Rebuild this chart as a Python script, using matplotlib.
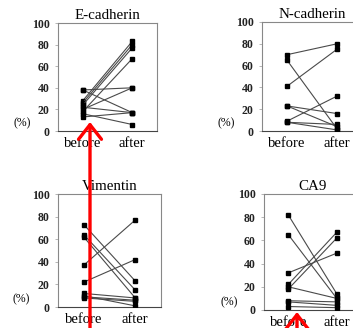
import matplotlib
matplotlib.use("Agg")
import matplotlib.pyplot as plt
from matplotlib.patches import FancyArrowPatch

# paired percentages (before -> after) for each marker
ecad_before = [38, 28, 26, 24, 18, 20, 22, 13, 16, 38]
ecad_after = [40, 83, 80, 77, 67, 40, 17, 17, 6, 17]

ncad_before = [70, 65, 41, 23, 23, 9, 8, 8]
ncad_after = [80, 2, 75, 16, 4, 32, 6, 1]

vim_before = [73, 64, 62, 37, 22, 12, 10, 9, 8]
vim_after = [23, 15, 8, 77, 42, 8, 1, 6, 5]

ca9_before = [82, 65, 32, 22, 18, 20, 8, 7, 3]
ca9_after = [14, 10, 49, 67, 62, 10, 7, 4, 2]

titles = ["E-cadherin", "N-cadherin", "Vimentin", "CA9"]
x_labels = ["before", "after"]
y_ticks = [0, 20, 40, 60, 80, 100]

W, H = 353, 328
fig = plt.figure(figsize=(W / 100, H / 100), dpi=100)
fig.patch.set_facecolor("white")

serif = ["Liberation Serif", "DejaVu Serif"]

# axes boxes in pixel coordinates: left, top, right, bottom
boxes = [
    (58, 23, 157, 131),
    (262, 22, 362, 131),
    (58, 194, 161, 307),
    (264, 194, 361, 310),
]
panels = [
    (ecad_before, ecad_after),
    (ncad_before, ncad_after),
    (vim_before, vim_after),
    (ca9_before, ca9_after),
]

for (l, t, r, b), title, (bef, aft) in zip(boxes, titles, panels):
    ax = fig.add_axes([l / W, 1 - b / H, (r - l) / W, (b - t) / H])
    for y0, y1 in zip(bef, aft):
        ax.plot([0, 1], [y0, y1], color="#4a4a4a", lw=0.8,
                marker="s", ms=2.8, mfc="black", mec="black", zorder=3)
    ax.set_xlim(-0.5, 1.5)
    ax.set_ylim(0, 100)
    ax.set_yticks(y_ticks)
    ax.set_yticklabels([str(v) for v in y_ticks], fontfamily=serif,
                       fontsize=8.5, fontweight="bold", color="#222222")
    ax.set_xticks([0, 1])
    ax.set_xticklabels(x_labels, fontfamily=serif, fontsize=10.5)
    ax.tick_params(axis="y", length=2, width=0.5, color="#999999", pad=4)
    ax.tick_params(axis="x", length=0, pad=4)
    for side, sp in ax.spines.items():
        sp.set_color("#888888")
        sp.set_linewidth(0.8)
    ax.spines["bottom"].set_color("#444444")
    ax.set_title(title, fontfamily=serif, fontsize=10.8, pad=3)
    ax.text(-0.36, 0.07, "(%)", transform=ax.transAxes, fontfamily=serif,
            fontsize=8.5, ha="center", va="center")

# red arrows
for x, y_tail, y_tip in [(90, 328, 122), (297, 328, 312)]:
    arr = FancyArrowPatch((x / W, 1 - y_tail / H), (x / W, 1 - y_tip / H),
                          transform=fig.transFigure,
                          arrowstyle="->,head_length=0.7,head_width=0.55",
                          mutation_scale=15, color="#ff0000", lw=2.4,
                          zorder=10, shrinkA=0, shrinkB=0)
    fig.add_artist(arr)

fig.savefig("out.png", dpi=100, facecolor="white")
